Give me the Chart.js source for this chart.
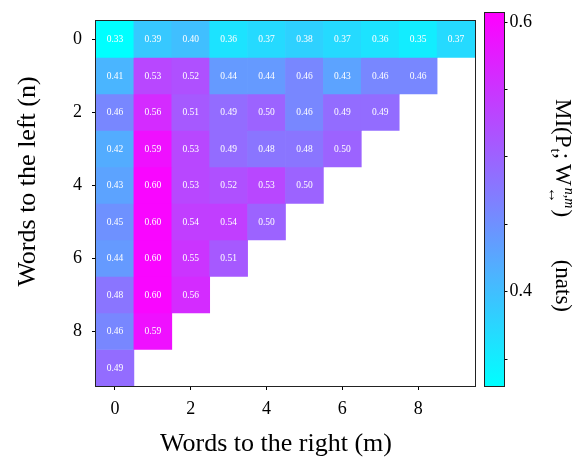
<!DOCTYPE html>
<html>
<head>
<meta charset="utf-8">
<script src="https://cdn.jsdelivr.net/npm/chart.js@4.4.1/dist/chart.umd.min.js"></script>
<style>
  html, body { margin: 0; padding: 0; background: #fff; }
  #wrap { position: relative; width: 579px; height: 457px; }
  #wrap canvas { position: absolute; left: 0; top: 0; }
</style>
</head>
<body>
<div id="wrap">
  <canvas id="heat" width="579" height="457"></canvas>
  <canvas id="cbar" width="579" height="457"></canvas>
</div>
<script>
// words to the right (m) along x, words to the left (n) along y
const rightLabels = ['0', '1', '2', '3', '4', '5', '6', '7', '8', '9'];
const xTickValues = [0, 2, 4, 6, 8];
const yTickValues = [0, 2, 4, 6, 8];

// MI per row n, columns m = 0..(9-n)
const row0 = [0.33, 0.39, 0.40, 0.36, 0.37, 0.38, 0.37, 0.36, 0.35, 0.37];
const row1 = [0.41, 0.53, 0.52, 0.44, 0.44, 0.46, 0.43, 0.46, 0.46];
const row2 = [0.46, 0.56, 0.51, 0.49, 0.50, 0.46, 0.49, 0.49];
const row3 = [0.42, 0.59, 0.53, 0.49, 0.48, 0.48, 0.50];
const row4 = [0.43, 0.60, 0.53, 0.52, 0.53, 0.50];
const row5 = [0.45, 0.60, 0.54, 0.54, 0.50];
const row6 = [0.44, 0.60, 0.55, 0.51];
const row7 = [0.48, 0.60, 0.56];
const row8 = [0.46, 0.59];
const row9 = [0.49];
const miRows = [row0, row1, row2, row3, row4, row5, row6, row7, row8, row9];

// colour range of the colorbar
const vMin = 0.33;
const vMax = 0.607;
const cbTicks = [0.35, 0.4, 0.45, 0.5, 0.55, 0.6];
const cbLabelled = [0.4, 0.6];

const SERIF = '"Liberation Serif", "Times New Roman", serif';

// matplotlib "cool": cyan -> magenta
function cool(v) {
  let t = (v - vMin) / (vMax - vMin);
  t = Math.max(0, Math.min(1, t));
  return `rgb(${Math.round(255 * t)},${Math.round(255 * (1 - t))},255)`;
}

const framePlugin = {
  id: 'frame',
  afterDraw(chart) {
    const a = chart.chartArea;
    const ctx = chart.ctx;
    ctx.save();
    ctx.strokeStyle = '#222';
    ctx.lineWidth = 1;
    ctx.strokeRect(Math.round(a.left) - 0.5, Math.round(a.top) - 0.5,
      Math.round(a.right - a.left) + 1, Math.round(a.bottom - a.top) + 1);
    ctx.restore();
  }
};

const cellText = {
  id: 'cellText',
  afterDatasetsDraw(chart) {
    const ctx = chart.ctx;
    ctx.save();
    ctx.font = '9.5px ' + SERIF;
    ctx.fillStyle = '#fff';
    ctx.textAlign = 'center';
    ctx.textBaseline = 'middle';
    chart.data.datasets.forEach((ds, di) => {
      chart.getDatasetMeta(di).data.forEach((bar, i) => {
        ctx.fillText(miRows[di][i].toFixed(2), bar.x, (bar.y + bar.base) / 2 + 0.5);
      });
    });
    ctx.restore();
  }
};

const axisTitles = {
  id: 'axisTitles',
  afterDraw(chart) {
    const ctx = chart.ctx;
    ctx.save();
    ctx.fillStyle = '#000';
    ctx.font = '26px ' + SERIF;
    ctx.textAlign = 'center';
    ctx.textBaseline = 'alphabetic';
    ctx.fillText('Words to the right (m)', 276, 450.5);
    ctx.translate(34.5, 181.5);
    ctx.rotate(-Math.PI / 2);
    ctx.fillText('Words to the left (n)', 0, 0);
    ctx.restore();
  }
};

const cbTitle = {
  id: 'cbTitle',
  afterDraw(chart) {
    const ctx = chart.ctx;
    const big = '23px ' + SERIF;
    const small = '15px ' + SERIF;
    const smallIt = 'italic 14px ' + SERIF;
    ctx.save();
    ctx.fillStyle = '#000';
    ctx.textAlign = 'left';
    ctx.textBaseline = 'alphabetic';
    ctx.translate(556, 99);
    ctx.rotate(Math.PI / 2);
    let x = 0;
    ctx.font = big;
    ctx.fillText('MI(P', x, 0);
    x += ctx.measureText('MI(P').width;
    ctx.font = small;
    ctx.fillText('t', x + 1, 5);
    x += ctx.measureText('t').width + 1;
    ctx.font = big;
    ctx.fillText(';', x, 0);
    x += ctx.measureText(';').width + 5;
    ctx.fillText('W', x, 0);
    x += ctx.measureText('W').width + 1;
    ctx.font = smallIt;
    ctx.fillText('n,m', x + 1, -9);
    const w1 = ctx.measureText('n,m').width + 1;
    ctx.font = '17px ' + SERIF;
    ctx.fillText('\u2194', x, 7);
    const w2 = ctx.measureText('\u2194').width;
    x += Math.max(w1, w2) + 1;
    ctx.font = big;
    ctx.fillText(')', x, 0);
    const nats = '(nats)';
    ctx.fillText(nats, 213 - ctx.measureText(nats).width, 0);
    ctx.restore();
  }
};

const heatData = miRows.map((row, n) => ({
  label: 'n = ' + n,
  data: row.map(() => [n - 0.5, n + 0.5]),
  backgroundColor: row.map(cool),
  borderWidth: 0,
  barPercentage: 1,
  categoryPercentage: 1,
  grouped: false
}));

new Chart(document.getElementById('heat'), {
  type: 'bar',
  data: { labels: rightLabels, datasets: heatData },
  options: {
    responsive: false,
    animation: false,
    layout: { padding: { left: 0, right: 104, top: 7, bottom: 0 } },
    plugins: { legend: { display: false }, tooltip: { enabled: false } },
    scales: {
      x: {
        type: 'category',
        offset: true,
        afterFit: s => { s.height = 71; },
        afterBuildTicks: s => { s.ticks = s.ticks.filter(t => xTickValues.includes(t.value)); },
        grid: { offset: false, drawOnChartArea: false, tickLength: 4, color: '#000' },
        border: { display: false },
        ticks: { autoSkip: false, maxRotation: 0, padding: 8, color: '#000', font: { family: SERIF, size: 18 } }
      },
      y: {
        min: -0.5,
        max: 9.5,
        reverse: true,
        afterFit: s => { s.width = 96; },
        afterBuildTicks: s => { s.ticks = yTickValues.map(v => ({ value: v })); },
        grid: { drawOnChartArea: false, tickLength: 4, color: '#000' },
        border: { display: false },
        ticks: { padding: 10, color: '#000', font: { family: SERIF, size: 18 } }
      }
    }
  },
  plugins: [cellText, framePlugin, axisTitles]
});

new Chart(document.getElementById('cbar'), {
  type: 'bar',
  data: {
    labels: [''],
    datasets: [{
      data: [[vMin, vMax]],
      backgroundColor: c => {
        const a = c.chart.chartArea;
        if (!a) return null;
        const g = c.chart.ctx.createLinearGradient(0, a.bottom, 0, a.top);
        for (let i = 0; i <= 10; i++) g.addColorStop(i / 10, cool(vMin + (vMax - vMin) * i / 10));
        return g;
      },
      borderWidth: 0,
      barPercentage: 1,
      categoryPercentage: 1
    }]
  },
  options: {
    responsive: false,
    animation: false,
    layout: { padding: { left: 485, right: 0, top: 7, bottom: 71 } },
    plugins: { legend: { display: false }, tooltip: { enabled: false } },
    scales: {
      x: { display: false },
      y: {
        position: 'right',
        min: vMin,
        max: vMax,
        afterFit: s => { s.width = 75; },
        afterBuildTicks: s => { s.ticks = cbTicks.map(v => ({ value: v })); },
        grid: { drawOnChartArea: false, tickLength: 3.5, color: '#000' },
        border: { display: false },
        ticks: {
          padding: 2,
          color: '#000',
          font: { family: SERIF, size: 18 },
          callback: v => cbLabelled.includes(v) ? v.toFixed(1) : ''
        }
      }
    }
  },
  plugins: [framePlugin, cbTitle]
});
</script>
</body>
</html>
